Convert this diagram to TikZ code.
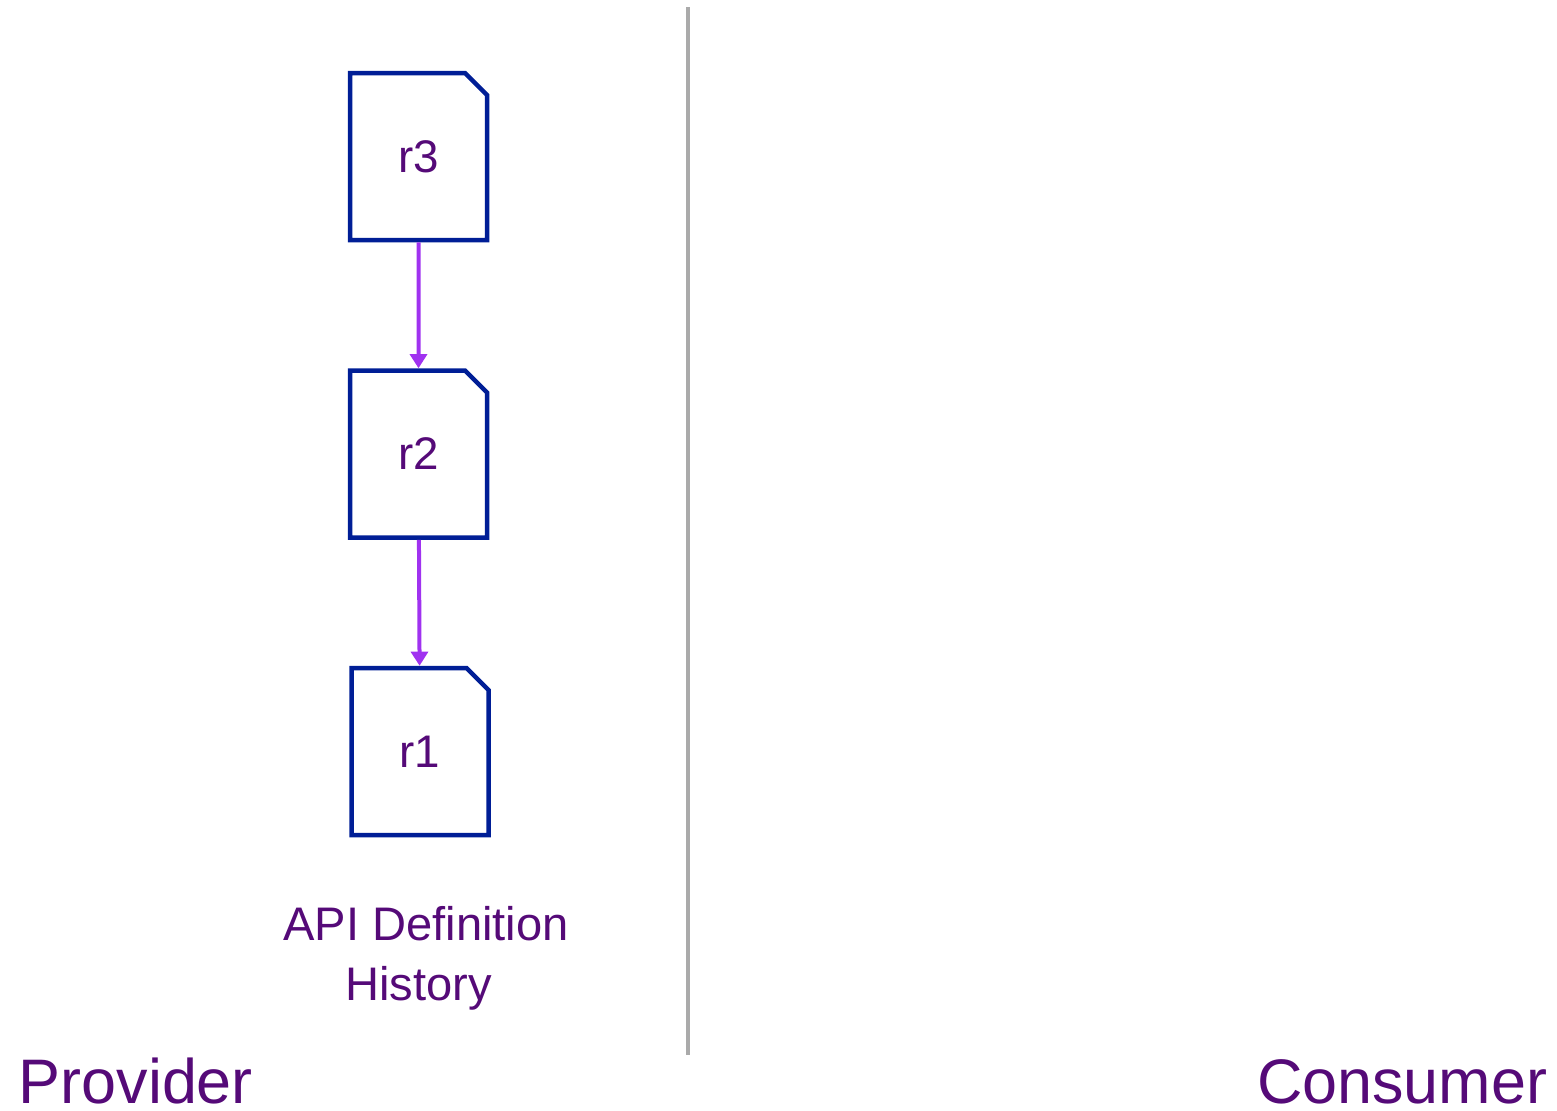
\documentclass[tikz,border=0pt]{standalone}
\usepackage{fontspec}
\setmainfont{Liberation Sans}
\usepackage{tikz}
\usetikzlibrary{positioning}
\usetikzlibrary{arrows.meta}
\usetikzlibrary{shapes.misc}

\definecolor{docblue}{RGB}{0,30,150}
\definecolor{txtpurple}{RGB}{85,10,120}
\definecolor{linkviolet}{RGB}{160,50,240}
\definecolor{divgrey}{RGB}{170,170,170}

\tikzset{
  revdoc/.style={chamfered rectangle,chamfered rectangle corners=north east,
    chamfered rectangle xsep=0.11cm,chamfered rectangle ysep=0.11cm,
    draw=docblue,line width=0.045cm,fill=white,minimum width=1.37cm,minimum height=1.67cm,
    inner sep=0pt,text=txtpurple,font=\fontsize{13pt}{15pt}\selectfont},
  revlink/.style={draw=linkviolet,line width=0.04cm,-{Triangle[length=4pt,width=4.8pt]}},
  sidelabel/.style={inner sep=0pt,text=txtpurple,font=\fontsize{17.9pt}{21pt}\selectfont}
}

\begin{document}
\begin{tikzpicture}
\useasboundingbox (0,0) rectangle (15.57,-11.10);
\draw[divgrey,line width=0.04cm] (6.88,-0.07) -- (6.88,-10.55);

\node[revdoc] (r3) at (4.185,-1.565) {r3};
\node[revdoc,below=1.26cm of r3] (r2) {r2};
\node[revdoc,below=1.26cm of r2,xshift=0.015cm] (r1) {r1};

\draw[revlink] (r3) -- (r2);
\draw[revlink] (r2) -- (r1);

\node[text=txtpurple,align=center,inner sep=0pt,font=\fontsize{13.4pt}{17pt}\selectfont] (hist) at (4.26,-9.58) {API Definition\\History\hspace*{0.15cm}};

\node[sidelabel,anchor=base west] (prov) at (0.18,-11.03) {Provider};
\node[sidelabel,anchor=base east] (cons) at (15.48,-11.03) {Consumer};

\end{tikzpicture}
\end{document}
